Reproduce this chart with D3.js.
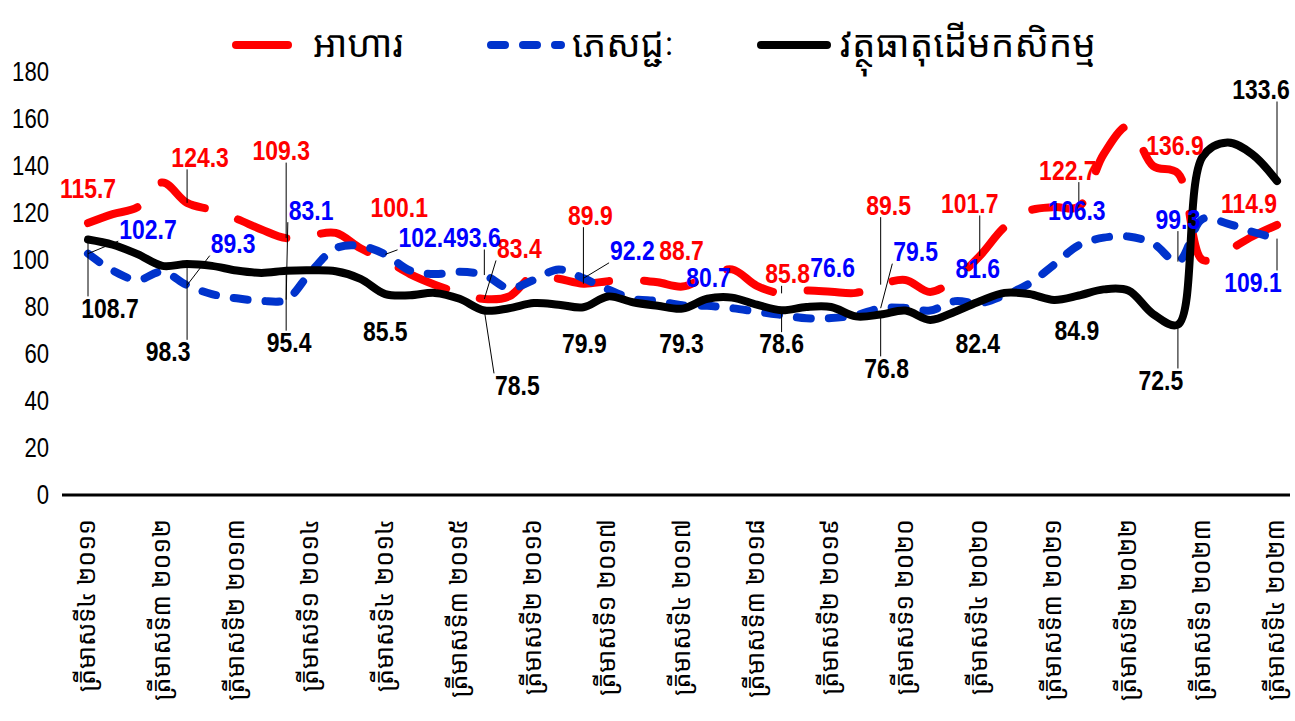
<!DOCTYPE html>
<html>
<head>
<meta charset="utf-8">
<script src="https://cdn.jsdelivr.net/npm/d3@7"></script>
<style>
  body { margin: 0; background: #fff; }
  .khmer { font-family: "Noto Sans Khmer", "Khmer OS", "Khmer OS System", "Noto Serif Khmer", "Hanuman", sans-serif; }
  .num { font-family: "Liberation Sans Narrow", "Arial Narrow", "Liberation Sans", Arial, sans-serif; }
</style>
</head>
<body>
<svg id="chart" width="1295" height="721"></svg>
<script>
//data
const tickLabels = [
  "ត្រីមាសទី៤ ២០១១", "ត្រីមាសទី៣ ២០១២", "ត្រីមាសទី២ ២០១៣", "ត្រីមាសទី១ ២០១៤",
  "ត្រីមាសទី៤ ២០១៤", "ត្រីមាសទី៣ ២០១៥", "ត្រីមាសទី២ ២០១៦", "ត្រីមាសទី១ ២០១៧",
  "ត្រីមាសទី៤ ២០១៧", "ត្រីមាសទី៣ ២០១៨", "ត្រីមាសទី២ ២០១៩", "ត្រីមាសទី១ ២០២០",
  "ត្រីមាសទី៤ ២០២០", "ត្រីមាសទី៣ ២០២១", "ត្រីមាសទី២ ២០២២", "ត្រីមាសទី១ ២០២៣",
  "ត្រីមាសទី៤ ២០២៣"
]

const seriesNames = ["អាហារ", "ភេសជ្ជៈ", "វត្ថុធាតុដើមកសិកម្ម"]

// quarterly, Q4 2011 .. Q4 2023
const food = [
  115.7, 119.5, 122.5, 133, 124.3, 121.3, 117.5, 113, 109.3,
  110.5, 111.5, 105, 100.1, 94, 89.5, 86, 83.4,
  84.5, 93.5, 92, 89.9, 91, 91.5, 90.5, 88.7,
  93, 96, 89, 85.8, 87, 86.5, 86, 89.5,
  91.5, 86.4, 92, 101.7, 114, 121, 122.5, 122.7,
  145, 157, 140, 136.9, 100, 104, 110, 114.9
]

const beverage = [
  102.7, 95.5, 91.5, 95, 89.3, 85.5, 83.7, 82.6, 83.1,
  95, 105, 106, 102.4, 95.5, 94, 95, 93.6,
  88, 91.5, 96, 92.2, 87.5, 83.5, 82.5, 80.7,
  80.5, 79.5, 78, 76.6, 75.2, 75.3, 76.5, 79.5,
  79.6, 78.5, 82.5, 81.6, 85, 90, 98, 106.3,
  109.5, 110, 107, 99.3, 117.5, 115.5, 112, 109.1
]

const agri = [
  108.7, 106.5, 102.5, 97.5, 98.3, 97.5, 95.5, 94.5, 95.4,
  95.6, 95.2, 92, 85.5, 85, 86, 83.5, 78.5,
  79.5, 81.7, 81, 79.9, 84.5, 82, 80.5, 79.3,
  83.5, 84, 81, 78.6, 80, 80, 76, 76.8,
  78.5, 74.5, 78, 82.4, 86, 85.5, 83, 84.9,
  87.5, 87, 77, 72.5, 144, 150, 145, 133.6
]

const yTicks = [0, 20, 40, 60, 80, 100, 120, 140, 160, 180]

//layout : label offsets from point [dx, dy(baseline)], leader on/off
const foodLabelPos = [
  [0, -25, 0], [13, -36, 1], [-5, -78, 1], [14, -43, 0], [35, -41, 1], [7, -59, 1],
  [-1, -27, 0], [6, -10, 1], [8, -70, 1], [-10, -43, 1], [-11, -27, 1], [-3, -18, 0], [-28, -12, 0]
]
const beverageLabelPos = [
  [60, -15, 1], [46, -32, 1], [25, -80, 1], [42, -7, 1], [-6, -28, 1], [49, -18, 1],
  [26, -18, 0], [51, -38, 0], [35, -47, 1], [-2, -25, 0], [-2, -25, 0], [0, -33, 1], [-24, 53, 1]
]
const agriLabelPos = [
  [22, 78, 1], [-19, 97, 1], [3, 81, 1], [0, 47, 0], [33, 84, 1], [1, 46, 0],
  [-1, 44, 0], [0, 43, 1], [6, 63, 1], [-2, 52, 0], [-2, 45, 0], [-17, 65, 1], [-16, -82, 1]
]

const series = [
  { name: seriesNames[0], values: food, color: "#ff0000", labelColor: "#ff0000", dash: "52,35", pos: foodLabelPos },
  { name: seriesNames[1], values: beverage, color: "#0033cc", labelColor: "#0000ff", dash: "14,18", pos: beverageLabelPos },
  { name: seriesNames[2], values: agri, color: "#000000", labelColor: "#000000", dash: null, pos: agriLabelPos },
]

const narrow = 0.82

const svg = d3.select("#chart")
svg.append("rect").attr("width", 1295).attr("height", 721).attr("fill", "#fff")

//scales
const x = d3.scaleLinear().domain([0, food.length - 1]).range([88, 1277])
const y = d3.scaleLinear().domain([0, 180]).range([495, 72])

//axe y (texte seulement)
const yAxis = svg.append("g")
  .attr("transform", "translate(49,0)")
  .call(d3.axisLeft(y).tickValues(yTicks).tickSize(0).tickPadding(0))
yAxis.select(".domain").remove()
yAxis.selectAll("text")
  .attr("class", "num")
  .attr("font-size", 27)
  .attr("fill", "#000")
  .attr("x", 0)
  .attr("transform", `scale(${narrow},1)`)

//axe x
const xAxis = svg.append("g")
  .attr("transform", "translate(0,495)")
  .call(d3.axisBottom(x)
    .tickValues(d3.range(0, food.length, 3))
    .tickSize(0)
    .tickFormat((d) => tickLabels[d / 3]))
xAxis.select(".domain").remove()
xAxis.append("line")
  .attr("x1", 62).attr("x2", 1290)
  .attr("stroke", "#000").attr("stroke-width", 3)
xAxis.selectAll(".tick text")
  .attr("class", "khmer")
  .attr("font-size", 25)
  .attr("fill", "#000")
  .attr("text-anchor", "end")
  .attr("transform", "translate(-2,24) rotate(-90)")
  .attr("x", 0)
  .attr("y", 0)
  .attr("dy", "0.35em")

//lignes
const line = d3.line()
  .x((d, i) => x(i))
  .y((d) => y(d))
  .curve(d3.curveCatmullRom.alpha(0.5))

series.forEach((s) => {
  svg.append("path")
    .datum(s.values)
    .attr("d", line)
    .attr("fill", "none")
    .attr("stroke", s.color)
    .attr("stroke-width", 8)
    .attr("stroke-linecap", "round")
    .attr("stroke-linejoin", "round")
    .attr("stroke-dasharray", s.dash)
})

//etiquettes + leader
const gLeaders = svg.append("g")
const gLabels = svg.append("g")

series.forEach((s) => {
  s.pos.forEach((p, k) => {
    const i = k * 4
    const px = x(i), py = y(s.values[i])
    const cx = px + p[0], cy = py + p[1]
    const t = gLabels.append("text")
      .attr("class", "num")
      .attr("transform", `translate(${cx},${cy}) scale(${narrow},1)`)
      .attr("text-anchor", "middle")
      .attr("font-size", 28)
      .attr("font-weight", "bold")
      .attr("fill", s.labelColor)
      .text(d3.format(".1f")(s.values[i]))

    if (!p[2]) return
    const b = t.node().getBBox()
    const x0 = cx + b.x * narrow - 1, x1 = cx + (b.x + b.width) * narrow + 1
    const y0 = cy + b.y + 4, y1 = cy + b.y + b.height - 3
    const ex = Math.max(x0, Math.min(x1, px))
    const ey = Math.max(y0, Math.min(y1, py))
    gLeaders.append("line")
      .attr("x1", px).attr("y1", py)
      .attr("x2", ex).attr("y2", ey)
      .attr("stroke", "#000")
      .attr("stroke-width", 1)
  })
})

//legende
const legendX = [236, 491, 761]
const legendW = [52, 70, 66]
const legendTextX = [313, 572, 840]
const legend = svg.append("g")
series.forEach((s, i) => {
  legend.append("line")
    .attr("x1", legendX[i]).attr("x2", legendX[i] + legendW[i])
    .attr("y1", 45).attr("y2", 45)
    .attr("stroke", s.color)
    .attr("stroke-width", 8)
    .attr("stroke-linecap", "round")
    .attr("stroke-dasharray", s.dash)
  legend.append("text")
    .attr("class", "khmer")
    .attr("x", legendTextX[i])
    .attr("y", 57)
    .attr("font-size", 37)
    .attr("fill", "#000")
    .text(s.name)
})
</script>
</body>
</html>
